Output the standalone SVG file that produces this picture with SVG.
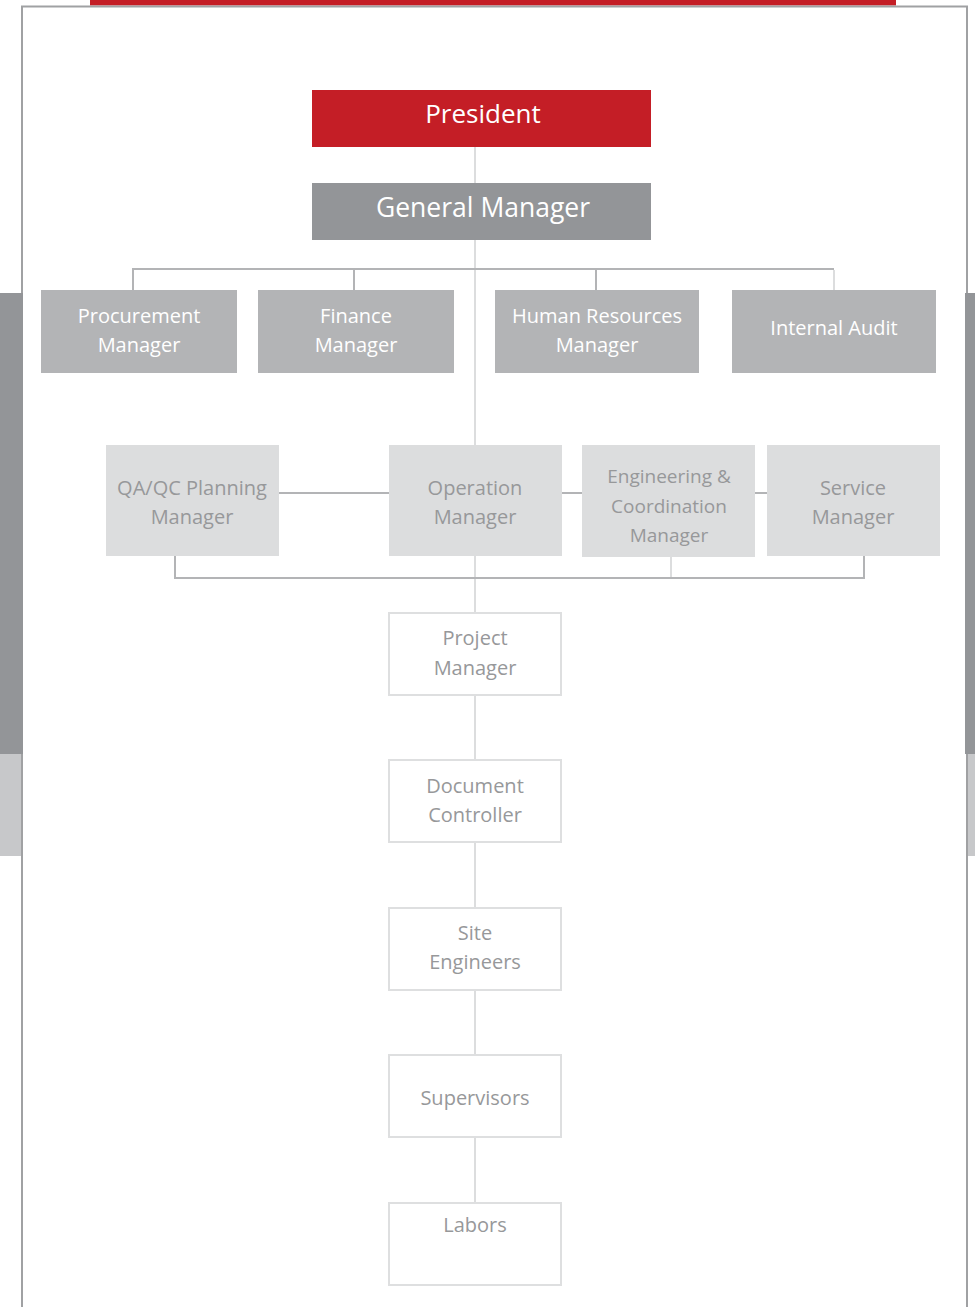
<svg xmlns="http://www.w3.org/2000/svg" width="975" height="1307" viewBox="0 0 975 1307">
<style>
text{font-family:"Open Sans","Liberation Sans",sans-serif;text-anchor:middle}
.w{fill:#ffffff}
.g{fill:#97989a}
.r1{fill:#b3b4b6}
.r2{fill:#dcddde}
.bx{fill:#ffffff;stroke:#dedfe0;stroke-width:2}
.dk{stroke:#b3b4b6;stroke-width:2;fill:none}
.lt{stroke:#dcddde;stroke-width:2;fill:none}
</style>
<rect x="0" y="0" width="975" height="1307" fill="#ffffff"/>
<g id="frame">
<rect x="90" y="0" width="806" height="5.5" fill="#c41e26"/>
<path d="M22 1307 V6.5 H967 V1307" fill="none" stroke="#a0a1a3" stroke-width="2"/>
<rect x="0" y="293" width="23" height="461" fill="#939598"/>
<rect x="0" y="754" width="21" height="102" fill="#c7c8ca"/>
<rect x="965" y="293" width="10" height="461" fill="#939598"/>
<rect x="968" y="754" width="7" height="102" fill="#c7c8ca"/>
</g>
<g id="connectors">
<path class="lt" d="M475 147 V612 M475 695 V760 M475 843 V907 M475 990 V1055 M475 1138 V1202"/>
<path class="dk" d="M133 290 V269 H834 M354 269 V290 M596 269 V290"/>
<path class="lt" d="M834 270 V290"/>
<path class="dk" d="M279 493 H389 M562 493 H582 M755 493 H767"/>
<path class="dk" d="M175 556 V578 H864 V556"/>
<path class="lt" d="M671 557 V577"/>
</g>
<g id="president">
<rect x="312" y="90" width="339" height="57" fill="#c41e26"/>
<text class="w" x="483" y="123" font-size="26">President</text>
</g>
<g id="general-manager">
<rect x="312" y="183" width="339" height="57" fill="#939598"/>
<text class="w" x="483" y="217" font-size="26.5">General Manager</text>
</g>
<g id="procurement">
<rect class="r1" x="41" y="290" width="196" height="83"/>
<text class="w" x="139" y="323" font-size="20">Procurement</text>
<text class="w" x="139" y="352" font-size="20">Manager</text>
</g>
<g id="finance">
<rect class="r1" x="258" y="290" width="196" height="83"/>
<text class="w" x="356" y="323" font-size="20">Finance</text>
<text class="w" x="356" y="352" font-size="20">Manager</text>
</g>
<g id="hr">
<rect class="r1" x="495" y="290" width="204" height="83"/>
<text class="w" x="597" y="323" font-size="20">Human Resources</text>
<text class="w" x="597" y="352" font-size="20">Manager</text>
</g>
<g id="internal-audit">
<rect class="r1" x="732" y="290" width="204" height="83"/>
<text class="w" x="834" y="335" font-size="20">Internal Audit</text>
</g>
<g id="qaqc">
<rect class="r2" x="106" y="445" width="173" height="111"/>
<text class="g" x="192" y="495" font-size="20">QA/QC Planning</text>
<text class="g" x="192" y="524" font-size="20">Manager</text>
</g>
<g id="operation">
<rect class="r2" x="389" y="445" width="173" height="111"/>
<text class="g" x="475" y="495" font-size="20">Operation</text>
<text class="g" x="475" y="524" font-size="20">Manager</text>
</g>
<g id="engineering">
<rect class="r2" x="582" y="445" width="173" height="112"/>
<text class="g" x="669" y="483" font-size="19">Engineering &amp;</text>
<text class="g" x="669" y="513" font-size="19">Coordination</text>
<text class="g" x="669" y="542" font-size="19">Manager</text>
</g>
<g id="service">
<rect class="r2" x="767" y="445" width="173" height="111"/>
<text class="g" x="853" y="495" font-size="20">Service</text>
<text class="g" x="853" y="524" font-size="20">Manager</text>
</g>
<g id="project-manager">
<rect class="bx" x="389" y="613" width="172" height="82"/>
<text class="g" x="475" y="645" font-size="20">Project</text>
<text class="g" x="475" y="675" font-size="20">Manager</text>
</g>
<g id="document-controller">
<rect class="bx" x="389" y="760" width="172" height="82"/>
<text class="g" x="475" y="793" font-size="20">Document</text>
<text class="g" x="475" y="822" font-size="20">Controller</text>
</g>
<g id="site-engineers">
<rect class="bx" x="389" y="908" width="172" height="82"/>
<text class="g" x="475" y="940" font-size="20">Site</text>
<text class="g" x="475" y="969" font-size="20">Engineers</text>
</g>
<g id="supervisors">
<rect class="bx" x="389" y="1055" width="172" height="82"/>
<text class="g" x="475" y="1105" font-size="20">Supervisors</text>
</g>
<g id="labors">
<rect class="bx" x="389" y="1203" width="172" height="82"/>
<text class="g" x="475" y="1232" font-size="20">Labors</text>
</g>
</svg>
